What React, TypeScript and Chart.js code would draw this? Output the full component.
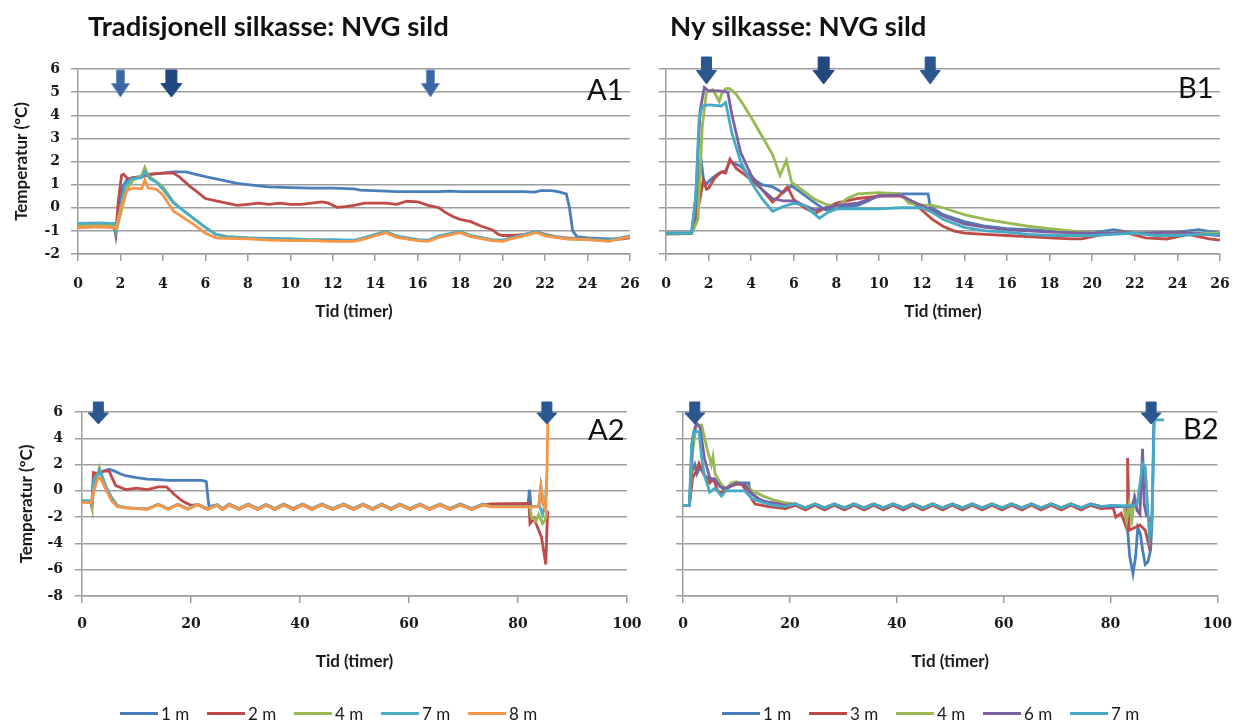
import React, { useEffect, useRef } from "react";
import { Chart, registerables } from "chart.js";

Chart.register(...registerables);

type Pt = [number, number];

// ---------------- Tick values ----------------
const SHORT_X_TICKS = [0, 2, 4, 6, 8, 10, 12, 14, 16, 18, 20, 22, 24, 26];
const LONG_X_TICKS = [0, 20, 40, 60, 80, 100];
const SHORT_Y_TICKS = [-2, -1, 0, 1, 2, 3, 4, 5, 6];
const LONG_Y_TICKS = [-8, -6, -4, -2, 0, 2, 4, 6];

// ---------------- Series labels ----------------
const A_LABELS = ["1 m", "2 m", "4 m", "7 m", "8 m"];
const B_LABELS = ["1 m", "3 m", "4 m", "6 m", "7 m"];

// ---------------- A1: Tradisjonell silkasse, 0–26 h ----------------
const A1_1M: Pt[] = [[0,-0.7],[1,-0.68],[1.7,-0.7],[1.78,-1.2],[1.9,-0.3],[2.1,0.9],[2.3,1.2],[2.6,1.3],[3,1.35],[3.5,1.45],[4,1.5],[4.5,1.55],[5.1,1.55],[5.5,1.45],[6,1.35],[6.5,1.25],[7,1.15],[7.5,1.05],[8,1.0],[8.5,0.95],[9,0.9],[10,0.87],[11,0.85],[12,0.85],[13,0.82],[13.3,0.76],[14.5,0.72],[15,0.7],[16,0.7],[17,0.7],[17.5,0.72],[18,0.7],[19,0.7],[20,0.7],[21,0.7],[21.5,0.68],[21.8,0.74],[22.3,0.74],[22.6,0.7],[23,0.6],[23.15,0],[23.3,-1.0],[23.5,-1.25],[24,-1.3],[25,-1.35],[25.7,-1.35],[26,-1.25]];
const A1_2M: Pt[] = [[0,-0.85],[1,-0.82],[1.7,-0.85],[1.78,-1.1],[1.9,0.3],[2.05,1.4],[2.15,1.45],[2.35,1.25],[2.6,1.3],[3,1.35],[3.4,1.45],[4,1.5],[4.5,1.5],[4.75,1.35],[5,1.15],[5.3,0.9],[5.6,0.7],[6,0.4],[6.5,0.3],[7,0.2],[7.5,0.1],[8,0.15],[8.5,0.2],[9,0.15],[9.5,0.2],[10,0.15],[10.5,0.15],[11,0.2],[11.5,0.25],[11.8,0.2],[12.2,0.02],[12.6,0.05],[13,0.1],[13.5,0.2],[14,0.2],[14.5,0.2],[15,0.15],[15.5,0.28],[16,0.25],[16.5,0.1],[17,0.0],[17.3,-0.2],[17.7,-0.4],[18,-0.5],[18.5,-0.6],[19,-0.8],[19.5,-0.95],[19.8,-1.15],[20,-1.2],[20.5,-1.2],[21,-1.15],[21.6,-1.05],[22,-1.15],[22.5,-1.25],[23,-1.3],[24,-1.35],[25,-1.4],[26,-1.3]];
const A1_4M: Pt[] = [[0,-0.75],[1,-0.72],[1.7,-0.75],[1.8,-1.0],[2.0,-0.3],[2.3,0.8],[2.6,1.2],[3,1.4],[3.15,1.75],[3.3,1.4],[3.6,1.2],[4,0.9],[4.5,0.25],[5,-0.15],[5.5,-0.5],[6,-0.85],[6.5,-1.15],[7,-1.25],[8,-1.3],[9,-1.35],[10,-1.35],[11,-1.4],[12,-1.4],[13,-1.42],[14,-1.15],[14.5,-1.05],[15,-1.25],[16,-1.4],[16.5,-1.42],[17,-1.25],[18,-1.05],[18.5,-1.2],[19.5,-1.4],[20,-1.42],[20.5,-1.3],[21.6,-1.05],[22,-1.2],[23,-1.35],[24,-1.38],[25,-1.42],[26,-1.25]];
const A1_7M: Pt[] = [[0,-0.68],[1,-0.65],[1.7,-0.68],[1.78,-1.0],[2.0,0.0],[2.2,0.9],[2.5,1.25],[3,1.3],[3.15,1.55],[3.4,1.25],[3.7,1.1],[4,0.8],[4.5,0.2],[5,-0.15],[5.5,-0.5],[6,-0.85],[6.5,-1.15],[7,-1.25],[8,-1.3],[9,-1.32],[10,-1.35],[11,-1.38],[12,-1.38],[13,-1.4],[13.5,-1.3],[14.5,-1.03],[15,-1.22],[16,-1.38],[16.5,-1.4],[17,-1.22],[18,-1.03],[18.5,-1.2],[19.5,-1.38],[20,-1.4],[20.5,-1.28],[21.6,-1.03],[22,-1.18],[23,-1.32],[24,-1.35],[25,-1.4],[26,-1.22]];
const A1_8M: Pt[] = [[0,-0.85],[1,-0.82],[1.7,-0.85],[1.8,-0.9],[2.0,-0.1],[2.3,0.75],[2.6,0.85],[3.0,0.82],[3.15,1.2],[3.3,0.85],[3.7,0.8],[4,0.55],[4.5,-0.15],[5,-0.45],[5.5,-0.75],[6,-1.1],[6.5,-1.3],[7,-1.32],[8,-1.35],[9,-1.4],[10,-1.42],[11,-1.42],[12,-1.45],[13,-1.45],[13.5,-1.35],[14.5,-1.08],[15,-1.28],[16,-1.42],[16.5,-1.45],[17,-1.28],[18,-1.08],[18.5,-1.25],[19.5,-1.42],[20,-1.45],[20.5,-1.32],[21.6,-1.08],[22,-1.22],[23,-1.35],[24,-1.38],[25,-1.45],[26,-1.25]];
const A1_ARROW_X = [2.0, 4.4, 16.6];

// ---------------- B1: Ny silkasse, 0–26 h ----------------
const B1_1M: Pt[] = [[0,-1.1],[1.2,-1.1],[1.4,-0.3],[1.55,1.5],[1.65,2.05],[1.75,1.3],[1.85,1.0],[2.2,1.3],[2.5,1.5],[2.8,1.6],[3.0,2.0],[3.5,1.8],[4,1.3],[4.5,1.0],[5,0.9],[5.5,0.65],[5.9,0.95],[6.5,0.55],[7,0.2],[7.5,-0.1],[8,0.0],[9,0.1],[9.5,0.3],[10,0.55],[10.5,0.6],[12.3,0.6],[12.4,0.05],[13,-0.3],[14,-0.6],[15,-0.8],[16,-0.9],[17,-0.95],[18,-1.0],[19,-1.05],[20,-1.1],[21,-0.95],[22,-1.1],[23,-1.1],[24,-1.05],[25,-0.95],[26,-1.1]];
const B1_3M: Pt[] = [[0,-1.12],[1.2,-1.12],[1.4,-0.5],[1.6,0.4],[1.75,1.2],[1.9,0.8],[2.0,0.85],[2.3,1.3],[2.6,1.55],[2.8,1.5],[3.0,2.1],[3.3,1.7],[3.6,1.5],[4,1.2],[4.5,0.8],[5,0.25],[5.3,0.5],[5.7,0.9],[6,0.35],[6.5,0.0],[7,-0.25],[7.5,0.0],[8,0.2],[9,0.4],[10,0.5],[11,0.5],[11.5,0.3],[12,-0.1],[12.5,-0.5],[13,-0.8],[13.5,-1.0],[14,-1.1],[15,-1.15],[16,-1.2],[17,-1.25],[18,-1.3],[19,-1.35],[19.5,-1.35],[20.5,-1.15],[21.5,-1.05],[22.5,-1.3],[23.5,-1.35],[24.5,-1.15],[25.5,-1.35],[26,-1.4]];
const B1_4M: Pt[] = [[0,-1.15],[1.2,-1.12],[1.5,-0.5],[1.7,3.5],[1.9,5.0],[2.2,5.1],[2.5,4.6],[2.6,4.9],[2.8,5.15],[3.0,5.15],[3.3,4.9],[3.6,4.5],[4,3.9],[4.5,3.1],[5,2.3],[5.35,1.4],[5.65,2.05],[5.9,1.1],[6.5,0.7],[7,0.35],[7.5,0.15],[8,0.05],[8.5,0.4],[9,0.6],[10,0.65],[11,0.6],[11.4,0.2],[12,0.12],[12.5,0.1],[13,0.0],[14,-0.3],[15,-0.5],[16,-0.65],[17,-0.8],[18,-0.9],[19,-1.0],[20,-1.1],[22,-1.1],[24,-1.1],[26,-1.1]];
const B1_6M: Pt[] = [[0,-1.1],[1.2,-1.1],[1.4,0.5],[1.6,4.2],[1.8,5.2],[2.0,5.05],[2.5,5.05],[2.9,5.0],[3.1,4.0],[3.5,2.4],[4,1.4],[4.5,0.8],[5,0.4],[5.5,0.3],[6,0.3],[6.5,0.1],[7,-0.1],[7.5,0.0],[8,0.1],[9,0.2],[10,0.5],[11,0.55],[11.5,0.3],[12,0.1],[13,-0.35],[14,-0.7],[15,-0.85],[16,-0.95],[18,-1.05],[20,-1.1],[22,-1.1],[24,-1.05],[26,-1.2]];
const B1_7M: Pt[] = [[0,-1.1],[1.2,-1.1],[1.4,0.5],[1.55,3.8],[1.7,4.4],[2.0,4.45],[2.6,4.4],[2.8,4.55],[3.1,3.2],[3.5,2.0],[4,1.1],[4.5,0.4],[5,-0.15],[5.5,0.05],[6,0.2],[6.5,0.1],[7.2,-0.45],[7.6,-0.2],[8,-0.05],[9,-0.05],[10,-0.05],[11,0.0],[12,0.0],[12.5,-0.2],[13,-0.5],[14,-0.85],[15,-1.0],[16,-1.05],[17,-1.15],[18,-1.2],[19,-1.2],[20,-1.2],[21,-1.15],[22,-1.1],[23,-1.2],[24,-1.2],[25,-1.15],[26,-1.15]];
const B1_ARROW_X = [1.9, 7.4, 12.4];

// ---------------- A2: Tradisjonell silkasse, 0–100 h ----------------
const A2_1M: Pt[] = [[0,-0.8],[1.7,-0.8],[1.8,-1.3],[2.2,0.5],[2.8,1.2],[4,1.5],[5,1.65],[6,1.5],[7,1.3],[8,1.15],[10,1.0],[12,0.9],[14,0.85],[16,0.8],[18,0.8],[20,0.8],[22,0.8],[22.8,0.7],[23.1,-0.5],[23.3,-1.2],[24.8,-1.05],[25.8,-1.35],[27,-1.0],[28.8,-1.35],[30.5,-1.0],[32.2,-1.35],[33.8,-1.05],[35.4,-1.35],[37,-1.0],[38.8,-1.35],[40.5,-1.0],[42.2,-1.35],[44,-1.0],[46,-1.35],[48,-1.0],[49.8,-1.35],[51.6,-1.0],[53.3,-1.35],[55,-1.0],[56.7,-1.35],[58.3,-1.0],[60.2,-1.35],[62,-1.0],[63.8,-1.35],[65.7,-1.0],[67.5,-1.35],[69.4,-1.0],[71.5,-1.35],[73.6,-1.0],[75,-1.18],[81.8,-1.18],[82.1,0.1],[82.4,-1.2],[83.8,-1.2],[84.2,0.3],[84.6,-1.0],[85,-1.3]];
const A2_2M: Pt[] = [[0,-0.9],[1.7,-0.9],[1.8,-1.1],[2.1,1.4],[3,1.3],[4,1.5],[5,1.5],[5.5,1.0],[6.2,0.4],[8,0.1],[10,0.2],[12,0.1],[14,0.3],[15.5,0.3],[17,-0.3],[18.5,-0.8],[20,-1.1],[21.2,-1.05],[23,-1.4],[24.8,-1.1],[25.8,-1.42],[27,-1.08],[28.8,-1.42],[30.5,-1.08],[32.2,-1.42],[33.8,-1.1],[35.4,-1.42],[37,-1.08],[38.8,-1.42],[40.5,-1.08],[42.2,-1.42],[44,-1.08],[46,-1.42],[48,-1.08],[49.8,-1.42],[51.6,-1.08],[53.3,-1.42],[55,-1.08],[56.7,-1.42],[58.3,-1.08],[60.2,-1.42],[62,-1.08],[63.8,-1.42],[65.7,-1.08],[67.5,-1.42],[69.4,-1.08],[71.5,-1.42],[73.6,-1.08],[75,-1.0],[82,-0.95],[82.2,-2.5],[83,-2.1],[83.5,-2.7],[84.3,-3.5],[84.8,-4.8],[85.1,-5.6],[85.3,-3.0],[85.45,-1.5]];
const A2_4M: Pt[] = [[0,-0.8],[1.7,-0.8],[1.8,-1.0],[2.3,0.8],[3,1.4],[3.2,1.75],[3.6,1.2],[4.5,0.2],[5.5,-0.6],[6.5,-1.15],[8,-1.28],[10,-1.35],[12,-1.38],[14,-1.03],[15.8,-1.38],[17.6,-1.03],[19.4,-1.38],[21.2,-1.03],[23,-1.38],[24.8,-1.08],[25.8,-1.38],[27,-1.03],[28.8,-1.38],[30.5,-1.03],[32.2,-1.38],[33.8,-1.08],[35.4,-1.38],[37,-1.03],[38.8,-1.38],[40.5,-1.03],[42.2,-1.38],[44,-1.03],[46,-1.38],[48,-1.03],[49.8,-1.38],[51.6,-1.03],[53.3,-1.38],[55,-1.03],[56.7,-1.38],[58.3,-1.03],[60.2,-1.38],[62,-1.03],[63.8,-1.38],[65.7,-1.03],[67.5,-1.38],[69.4,-1.03],[71.5,-1.38],[73.6,-1.03],[75,-1.2],[82.2,-1.2],[82.5,-2.0],[83.3,-2.3],[83.8,-1.8],[84.5,-2.5],[85,-2.2],[85.3,-1.5]];
const A2_7M: Pt[] = [[0,-0.75],[1.7,-0.75],[1.8,-1.0],[2.2,0.9],[3,1.35],[3.2,1.6],[3.6,1.2],[4.5,0.2],[5.5,-0.55],[6.5,-1.12],[8,-1.27],[10,-1.33],[12,-1.37],[14,-1.02],[15.8,-1.37],[17.6,-1.02],[19.4,-1.37],[21.2,-1.02],[23,-1.37],[24.8,-1.07],[25.8,-1.37],[27,-1.02],[28.8,-1.37],[30.5,-1.02],[32.2,-1.37],[33.8,-1.07],[35.4,-1.37],[37,-1.02],[38.8,-1.37],[40.5,-1.02],[42.2,-1.37],[44,-1.02],[46,-1.37],[48,-1.02],[49.8,-1.37],[51.6,-1.02],[53.3,-1.37],[55,-1.02],[56.7,-1.37],[58.3,-1.02],[60.2,-1.37],[62,-1.02],[63.8,-1.37],[65.7,-1.02],[67.5,-1.37],[69.4,-1.02],[71.5,-1.37],[73.6,-1.02],[75,-1.2],[84,-1.2],[84.5,-1.8],[85,-1.0],[85.3,1.0]];
const A2_8M: Pt[] = [[0,-0.9],[1.7,-0.9],[2.2,0],[2.8,0.8],[3.2,1.0],[3.6,0.8],[4.5,0.0],[5.5,-0.8],[6.5,-1.2],[8,-1.3],[10,-1.35],[12,-1.4],[14,-1.05],[15.8,-1.4],[17.6,-1.05],[19.4,-1.4],[21.2,-1.05],[23,-1.4],[24.8,-1.1],[25.8,-1.4],[27,-1.05],[28.8,-1.4],[30.5,-1.05],[32.2,-1.4],[33.8,-1.1],[35.4,-1.4],[37,-1.05],[38.8,-1.4],[40.5,-1.05],[42.2,-1.4],[44,-1.05],[46,-1.4],[48,-1.05],[49.8,-1.4],[51.6,-1.05],[53.3,-1.4],[55,-1.05],[56.7,-1.4],[58.3,-1.05],[60.2,-1.4],[62,-1.05],[63.8,-1.4],[65.7,-1.05],[67.5,-1.4],[69.4,-1.05],[71.5,-1.4],[73.6,-1.05],[75,-1.22],[82,-1.22],[83.8,-1.22],[84.2,0.3],[84.7,-1.0],[85.1,-1.5],[85.3,1.5],[85.5,5.8]];
const A2_ARROW_X = [3.0, 85.3];

// ---------------- B2: Ny silkasse, 0–100 h ----------------
const B2_1M: Pt[] = [[0,-1.1],[1.2,-1.1],[1.7,1.5],[2.2,2.0],[2.6,1.3],[3.2,1.8],[4,1.2],[5,0.8],[6,0.9],[7,0.4],[7.8,0.0],[9,0.4],[10.5,0.6],[12.3,0.6],[12.5,0.0],[14,-0.6],[16,-0.9],[18,-1.0],[19.2,-1.1],[21,-1.0],[22.9,-1.3],[24.7,-1.0],[26.5,-1.3],[28.3,-1.0],[30.2,-1.3],[32,-1.0],[33.9,-1.3],[35.7,-1.0],[37.5,-1.3],[39.3,-1.0],[41.2,-1.3],[43,-1.0],[44.9,-1.3],[46.7,-1.0],[48.6,-1.3],[50.4,-1.0],[52.3,-1.3],[54.1,-1.0],[56,-1.3],[57.8,-1.0],[59.7,-1.3],[61.5,-1.0],[63.4,-1.3],[65.2,-1.0],[67,-1.3],[68.9,-1.0],[70.8,-1.3],[72.6,-1.0],[74.5,-1.3],[76.3,-1.0],[78.2,-1.2],[82.5,-1.2],[83,-2.0],[83.6,-5.0],[84.2,-6.3],[84.7,-5.0],[85.1,-2.8],[85.6,-3.3],[86,-4.5],[86.5,-5.6],[87,-5.4],[87.5,-4.5],[87.8,-2.0],[88.1,5.4]];
const B2_3M: Pt[] = [[0,-1.12],[1.2,-1.12],[1.8,1.0],[2.5,1.5],[3,2.1],[4,1.2],[5,0.6],[5.7,0.9],[6.5,0.0],[7.2,-0.2],[8,0.2],[10,0.5],[11,0.5],[12,-0.1],[13.5,-1.0],[16,-1.2],[19.2,-1.35],[21,-1.1],[22.9,-1.45],[24.7,-1.1],[26.5,-1.45],[28.3,-1.1],[30.2,-1.45],[32,-1.1],[33.9,-1.45],[35.7,-1.1],[37.5,-1.45],[39.3,-1.1],[41.2,-1.45],[43,-1.1],[44.9,-1.45],[46.7,-1.1],[48.6,-1.45],[50.4,-1.1],[52.3,-1.45],[54.1,-1.1],[56,-1.45],[57.8,-1.1],[59.7,-1.45],[61.5,-1.1],[63.4,-1.45],[65.2,-1.1],[67,-1.45],[68.9,-1.1],[70.8,-1.45],[72.6,-1.1],[74.5,-1.45],[76.3,-1.1],[78.2,-1.35],[80.5,-1.3],[81,-2.0],[82,-1.7],[82.8,-2.6],[83.1,-1.3],[83.2,2.5],[83.5,-3.0],[84.5,-2.8],[85.5,-2.6],[86.5,-3.0],[87.2,-4.2],[87.5,-2.0]];
const B2_4M: Pt[] = [[0,-1.1],[1.2,-1.1],[1.8,3.0],[2.5,5.0],[3.5,5.0],[4.5,3.2],[5.3,2.0],[5.6,2.6],[6,1.3],[7,0.6],[8,0.1],[9,0.6],[10,0.7],[11.5,0.5],[13,0.0],[15,-0.4],[17,-0.7],[19,-0.9],[21,-1.0],[22.9,-1.28],[24.7,-1.0],[26.5,-1.28],[28.3,-1.0],[30.2,-1.28],[32,-1.0],[33.9,-1.28],[35.7,-1.0],[37.5,-1.28],[39.3,-1.0],[41.2,-1.28],[43,-1.0],[44.9,-1.28],[46.7,-1.0],[48.6,-1.28],[50.4,-1.0],[52.3,-1.28],[54.1,-1.0],[56,-1.28],[57.8,-1.0],[59.7,-1.28],[61.5,-1.0],[63.4,-1.28],[65.2,-1.0],[67,-1.28],[68.9,-1.0],[70.8,-1.28],[72.6,-1.0],[74.5,-1.28],[76.3,-1.0],[78.2,-1.2],[82.5,-1.2],[83,-2.3],[83.5,-1.0],[84,-2.2],[84.5,-0.5],[85,-1.6]];
const B2_6M: Pt[] = [[0,-1.1],[1.2,-1.1],[1.8,4.0],[2.5,5.2],[3.2,4.8],[4,2.5],[5,1.0],[6,0.8],[7,0.3],[8,0.2],[10,0.6],[11.5,0.5],[13,-0.3],[15,-0.8],[18,-1.0],[19.2,-1.1],[21,-1.0],[22.9,-1.3],[24.7,-1.0],[26.5,-1.3],[28.3,-1.0],[30.2,-1.3],[32,-1.0],[33.9,-1.3],[35.7,-1.0],[37.5,-1.3],[39.3,-1.0],[41.2,-1.3],[43,-1.0],[44.9,-1.3],[46.7,-1.0],[48.6,-1.3],[50.4,-1.0],[52.3,-1.3],[54.1,-1.0],[56,-1.3],[57.8,-1.0],[59.7,-1.3],[61.5,-1.0],[63.4,-1.3],[65.2,-1.0],[67,-1.3],[68.9,-1.0],[70.8,-1.3],[72.6,-1.0],[74.5,-1.3],[76.3,-1.0],[78.2,-1.2],[84,-1.2],[84.5,-0.5],[85,-1.5],[85.5,-1.8],[86,3.2],[86.3,-1.0],[86.8,-2.0]];
const B2_7M: Pt[] = [[0,-1.1],[1.2,-1.1],[1.6,3.5],[2.0,4.5],[3.0,4.5],[3.5,2.5],[4,1.2],[5,-0.1],[6,0.2],[7.2,-0.4],[8,0.0],[11.5,0.0],[13,-0.6],[15,-0.9],[17,-1.1],[19,-1.2],[21,-1.0],[22.9,-1.3],[24.7,-1.0],[26.5,-1.3],[28.3,-1.0],[30.2,-1.3],[32,-1.0],[33.9,-1.3],[35.7,-1.0],[37.5,-1.3],[39.3,-1.0],[41.2,-1.3],[43,-1.0],[44.9,-1.3],[46.7,-1.0],[48.6,-1.3],[50.4,-1.0],[52.3,-1.3],[54.1,-1.0],[56,-1.3],[57.8,-1.0],[59.7,-1.3],[61.5,-1.0],[63.4,-1.3],[65.2,-1.0],[67,-1.3],[68.9,-1.0],[70.8,-1.3],[72.6,-1.0],[74.5,-1.3],[76.3,-1.0],[78.2,-1.2],[80,-1.1],[84,-1.15],[85,-1.0],[85.5,0.5],[86,2.1],[86.5,1.8],[86.9,-1.0],[87.3,-3.5],[87.7,-2.5],[88.0,2.0],[88.2,5.4],[90,5.4]];
const B2_ARROW_X = [2.2, 87.6];

// ---------------- Styles ----------------
const W = 1245;
const H = 722;
const A_COLORS = ["#4A7EBB", "#BE4B48", "#98B954", "#4BACC6", "#F79646"];
const B_COLORS = ["#4A7EBB", "#BE4B48", "#98B954", "#7D60A0", "#46AAC5"];
const GRID = "#9d9d9d";
const TEXT = "#1a1a1a";
const TICK_FONT = { family: "'DejaVu Serif', serif", size: 14, weight: "bold" as const };
const TITLE_FONT = { family: "Lato, 'Open Sans', sans-serif", size: 17, weight: "bold" as const };

const ARROW_THIN = { shaft: 8, head: 18, fill: "#3A67A3", stroke: "#6E90C2" };
const ARROW_BOLD = { shaft: 11, head: 21, fill: "#21497F", stroke: "#21497F" };
const ARROW_MID = { shaft: 10, head: 20, fill: "#2B5791", stroke: "#2B5791" };

const arrowPlugin = {
  id: "arrows",
  afterDatasetsDraw(chart: any, _a: any, opts: any) {
    const { ctx, chartArea, scales } = chart;
    ctx.save();
    (opts.items || []).forEach((a: any) => {
      const cx = scales.x.getPixelForValue(a.x);
      const top = chartArea.top + opts.topOffset;
      const h = opts.height;
      const sh = h * 0.5;
      const sw = a.style.shaft / 2;
      const hw = a.style.head / 2;
      ctx.beginPath();
      ctx.moveTo(cx - sw, top);
      ctx.lineTo(cx + sw, top);
      ctx.lineTo(cx + sw, top + sh);
      ctx.lineTo(cx + hw, top + sh);
      ctx.lineTo(cx, top + h);
      ctx.lineTo(cx - hw, top + sh);
      ctx.lineTo(cx - sw, top + sh);
      ctx.closePath();
      ctx.fillStyle = a.style.fill;
      ctx.fill();
      ctx.strokeStyle = a.style.stroke;
      ctx.lineWidth = 1;
      ctx.stroke();
    });
    ctx.restore();
  },
};

type PanelCfg = {
  series: Pt[][];
  labels: string[];
  colors: string[];
  xTicks: number[];
  yTicks: number[];
  box: { left: number; top: number; right: number; bottom: number };
  yAxisW: number;
  xAxisH: number;
  xTickPad: number;
  yTickPad: number;
  xTitlePadB: number;
  yTitlePadT: number;
  showY: boolean;
  arrowX: number[];
  arrowStyles: any[];
  arrowTop: number;
  arrowH: number;
};

function buildConfig(p: PanelCfg): any {
  const n = p.series.length;
  return {
    type: "line",
    data: {
      datasets: p.series.map((pts, i) => ({
        label: p.labels[i],
        data: pts.map(([x, y]) => ({ x, y })),
        borderColor: p.colors[i],
        backgroundColor: p.colors[i],
        borderWidth: 2.8,
        pointRadius: 0,
        tension: 0,
        fill: false,
        order: n - i,
      })),
    },
    options: {
      responsive: false,
      animation: false,
      events: [],
      layout: {
        padding: {
          left: p.box.left - p.yAxisW,
          top: p.box.top,
          right: W - p.box.right,
          bottom: H - p.box.bottom - p.xAxisH,
        },
      },
      plugins: {
        legend: { display: false },
        tooltip: { enabled: false },
        arrows: {
          items: p.arrowX.map((x, i) => ({ x, style: p.arrowStyles[i] })),
          topOffset: p.arrowTop,
          height: p.arrowH,
        },
      },
      scales: {
        x: {
          type: "linear",
          min: p.xTicks[0],
          max: p.xTicks[p.xTicks.length - 1],
          ticks: {
            stepSize: p.xTicks[1] - p.xTicks[0],
            padding: p.xTickPad,
            font: TICK_FONT,
            color: TEXT,
            maxRotation: 0,
            autoSkip: false,
          },
          grid: { display: true, drawOnChartArea: false, drawTicks: true, tickLength: 7, color: GRID, lineWidth: 1.5 },
          border: { display: true, color: GRID, width: 1.5 },
          title: {
            display: true,
            text: "Tid (timer)",
            font: TITLE_FONT,
            color: TEXT,
            padding: { top: 0, bottom: p.xTitlePadB },
          },
          afterFit: (s: any) => {
            s.height = p.xAxisH;
          },
        },
        y: {
          type: "linear",
          min: p.yTicks[0],
          max: p.yTicks[p.yTicks.length - 1],
          ticks: {
            stepSize: p.yTicks[1] - p.yTicks[0],
            padding: p.yTickPad,
            font: TICK_FONT,
            color: TEXT,
            display: p.showY,
          },
          grid: { display: true, drawTicks: true, tickLength: 7, color: GRID, lineWidth: 1.5 },
          border: { display: true, color: GRID, width: 1.5 },
          title: {
            display: p.showY,
            text: "Temperatur (ºC)",
            font: TITLE_FONT,
            color: TEXT,
            padding: { top: p.yTitlePadT, bottom: 0 },
          },
          afterFit: (s: any) => {
            s.width = p.yAxisW;
          },
        },
      },
    },
    plugins: [arrowPlugin],
  };
}

const PANELS: PanelCfg[] = [
  {
    series: [A1_1M, A1_2M, A1_4M, A1_7M, A1_8M],
    labels: A_LABELS, colors: A_COLORS, xTicks: SHORT_X_TICKS, yTicks: SHORT_Y_TICKS,
    box: { left: 78, top: 69, right: 630, bottom: 254 }, yAxisW: 78, xAxisH: 80,
    xTickPad: 15, yTickPad: 11, xTitlePadB: 11.8, yTitlePadT: 11.8, showY: true,
    arrowX: A1_ARROW_X, arrowStyles: [ARROW_THIN, ARROW_BOLD, ARROW_THIN], arrowTop: 1, arrowH: 27,
  },
  {
    series: [B1_1M, B1_3M, B1_4M, B1_6M, B1_7M],
    labels: B_LABELS, colors: B_COLORS, xTicks: SHORT_X_TICKS, yTicks: SHORT_Y_TICKS,
    box: { left: 666, top: 69, right: 1220, bottom: 254 }, yAxisW: 26, xAxisH: 80,
    xTickPad: 15, yTickPad: 11, xTitlePadB: 11.8, yTitlePadT: 11.8, showY: false,
    arrowX: B1_ARROW_X, arrowStyles: [ARROW_MID, ARROW_BOLD, ARROW_MID], arrowTop: -12, arrowH: 27,
  },
  {
    series: [A2_1M, A2_2M, A2_4M, A2_7M, A2_8M],
    labels: A_LABELS, colors: A_COLORS, xTicks: LONG_X_TICKS, yTicks: LONG_Y_TICKS,
    box: { left: 82, top: 412, right: 627, bottom: 596 }, yAxisW: 82, xAxisH: 80,
    xTickPad: 13, yTickPad: 12, xTitlePadB: 3.8, yTitlePadT: 16.8, showY: true,
    arrowX: A2_ARROW_X, arrowStyles: [ARROW_MID, ARROW_MID], arrowTop: -10, arrowH: 22,
  },
  {
    series: [B2_1M, B2_3M, B2_4M, B2_6M, B2_7M],
    labels: B_LABELS, colors: B_COLORS, xTicks: LONG_X_TICKS, yTicks: LONG_Y_TICKS,
    box: { left: 683, top: 412, right: 1229, bottom: 596 }, yAxisW: 43, xAxisH: 80,
    xTickPad: 13, yTickPad: 12, xTitlePadB: 3.8, yTitlePadT: 16.8, showY: false,
    arrowX: B2_ARROW_X, arrowStyles: [ARROW_MID, ARROW_MID], arrowTop: -10, arrowH: 22,
  },
];

function Panel({ cfg }: { cfg: PanelCfg }) {
  const ref = useRef<HTMLCanvasElement>(null);
  useEffect(() => {
    const chart = new Chart(ref.current as HTMLCanvasElement, buildConfig(cfg));
    return () => chart.destroy();
  }, [cfg]);
  return (
    <canvas
      ref={ref}
      width={W}
      height={H}
      style={{ position: "absolute", left: 0, top: 0, width: W, height: H }}
    />
  );
}

function Legend({ left, labels, colors }: { left: number; labels: string[]; colors: string[] }) {
  return (
    <>
      {labels.map((l, i) => (
        <div
          key={i}
          style={{
            position: "absolute", left: left + i * 87, top: 703, height: 20,
            display: "flex", alignItems: "center", whiteSpace: "nowrap",
          }}
        >
          <div style={{ width: 38, height: 3, background: colors[i], marginRight: 3 }} />
          <span style={{ fontFamily: "Lato, sans-serif", fontSize: 17, color: TEXT }}>{l}</span>
        </div>
      ))}
    </>
  );
}

const headStyle: React.CSSProperties = {
  position: "absolute", fontFamily: "Lato, sans-serif", fontWeight: 700, fontSize: 27.5,
  lineHeight: "28px", color: "#111", whiteSpace: "nowrap",
};
const letterStyle: React.CSSProperties = {
  position: "absolute", fontFamily: "Lato, sans-serif", fontWeight: 400, fontSize: 29,
  lineHeight: "29px", color: "#111", whiteSpace: "nowrap",
};

export default function App() {
  return (
    <div style={{ position: "absolute", left: 0, top: 0, width: W, height: H, background: "#fff", overflow: "hidden" }}>
      {PANELS.map((p, i) => (
        <Panel key={i} cfg={p} />
      ))}
      <div style={{ ...headStyle, left: 88, top: 12 }}>Tradisjonell silkasse: NVG sild</div>
      <div style={{ ...headStyle, left: 670, top: 12 }}>Ny silkasse: NVG sild</div>
      <div style={{ ...letterStyle, left: 587, top: 74 }}>A1</div>
      <div style={{ ...letterStyle, left: 1178, top: 72 }}>B1</div>
      <div style={{ ...letterStyle, left: 588, top: 414 }}>A2</div>
      <div style={{ ...letterStyle, left: 1183, top: 413 }}>B2</div>
      <Legend left={120} labels={A_LABELS} colors={A_COLORS} />
      <Legend left={722} labels={B_LABELS} colors={B_COLORS} />
    </div>
  );
}
